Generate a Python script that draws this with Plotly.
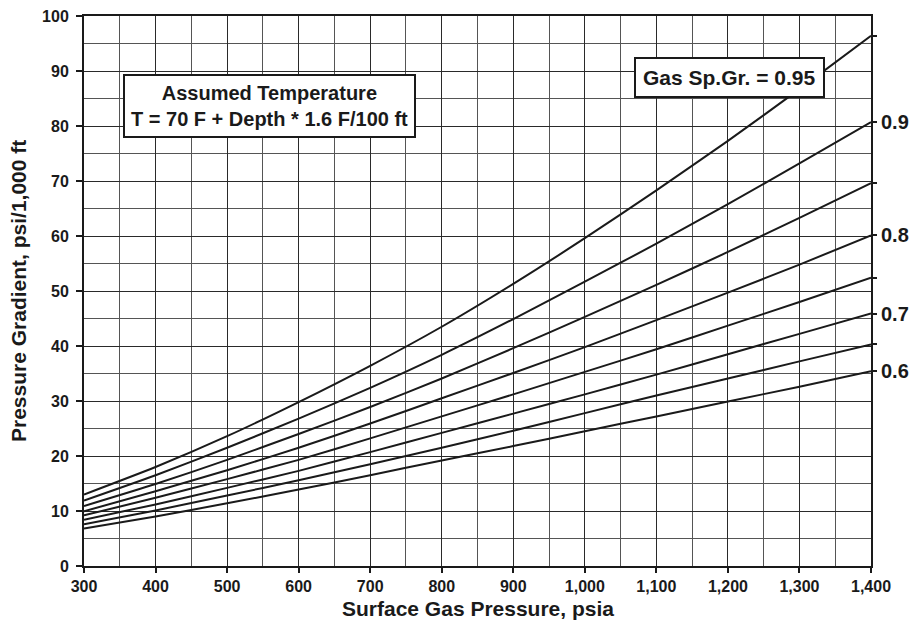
import plotly.graph_objects as go

# Surface gas pressure, psia
pressure = [300, 400, 500, 600, 700, 800, 900, 1000, 1100, 1200, 1300, 1400]

# Pressure gradient (psi/1,000 ft) for each gas specific gravity
grad_060 = [6.8, 9.0, 11.4, 13.9, 16.5, 19.2, 21.8, 24.5, 27.2, 29.9, 32.6, 35.4]
grad_065 = [7.6, 10.1, 12.8, 15.6, 18.5, 21.5, 24.6, 27.8, 31.0, 34.1, 37.2, 40.3]
grad_070 = [8.4, 11.2, 14.2, 17.3, 20.7, 24.2, 27.7, 31.2, 34.8, 38.5, 42.2, 45.9]
grad_075 = [9.2, 12.4, 15.8, 19.3, 23.2, 27.2, 31.2, 35.3, 39.4, 43.7, 48.0, 52.4]
grad_080 = [9.95, 13.6, 17.4, 21.5, 25.9, 30.5, 35.1, 39.8, 44.7, 49.7, 54.8, 60.1]
grad_085 = [10.9, 14.9, 19.3, 24.0, 28.9, 34.1, 39.6, 45.3, 51.1, 57.1, 63.3, 69.6]
grad_090 = [11.9, 16.5, 21.5, 26.8, 32.4, 38.4, 44.9, 51.7, 58.6, 65.8, 73.2, 80.7]
grad_095 = [13.0, 18.0, 23.6, 29.8, 36.4, 43.5, 51.3, 59.6, 68.3, 77.3, 86.7, 96.4]

gravities = [0.60, 0.65, 0.70, 0.75, 0.80, 0.85, 0.90, 0.95]
series = [grad_060, grad_065, grad_070, grad_075, grad_080, grad_085, grad_090, grad_095]
right_labels = ["0.6", "", "0.7", "", "0.8", "", "0.9", ""]

x_ticks = [300, 400, 500, 600, 700, 800, 900, 1000, 1100, 1200, 1300, 1400]
y_ticks = [0, 10, 20, 30, 40, 50, 60, 70, 80, 90, 100]

FONT = "Liberation Sans, Arial, sans-serif"
INK = "#1a1a1a"

fig = go.Figure()
for g, ys in zip(gravities, series):
    fig.add_trace(go.Scatter(x=pressure, y=ys, mode="lines", name=f"{g}",
                             line=dict(color=INK, width=2, shape="spline", smoothing=0.6),
                             showlegend=False, hoverinfo="skip"))

# invisible anchor trace for the right-hand axis (curve end ticks/labels)
fig.add_trace(go.Scatter(x=[pressure[-1]], y=[series[0][-1]], yaxis="y2", mode="markers",
                         marker=dict(size=1, color="rgba(0,0,0,0)"), showlegend=False,
                         hoverinfo="skip"))

end_vals = [s[-1] for s in series]

fig.update_layout(
    width=911, height=625,
    margin=dict(l=84, r=40, t=16, b=59),
    paper_bgcolor="white", plot_bgcolor="white",
    font=dict(family=FONT, color=INK),
    xaxis=dict(
        range=[300, 1400], tickvals=x_ticks, tickformat=",d",
        showgrid=True, gridcolor="#2a2a2a", gridwidth=1,
        minor=dict(dtick=50, tick0=300, showgrid=True, gridcolor="#555", gridwidth=1),
        ticks="outside", ticklen=5, tickwidth=2, tickcolor=INK,
        showline=True, linecolor=INK, linewidth=2, mirror=True,
        tickfont=dict(family=FONT, size=16, weight="bold", color=INK),
        ticklabeloverflow="allow",
        automargin=False, zeroline=False, fixedrange=True,
    ),
    yaxis=dict(
        range=[0, 100], tickvals=y_ticks,
        showgrid=True, gridcolor="#2a2a2a", gridwidth=1,
        minor=dict(dtick=5, tick0=0, showgrid=True, gridcolor="#555", gridwidth=1),
        ticks="outside", ticklen=6, tickwidth=2, tickcolor=INK,
        showline=True, linecolor=INK, linewidth=2, mirror=True,
        tickfont=dict(family=FONT, size=16, weight="bold", color=INK),
        ticklabelstandoff=4, ticklabeloverflow="allow",
        automargin=False, zeroline=False, fixedrange=True,
    ),
    yaxis2=dict(
        overlaying="y", side="right", range=[0, 100],
        tickvals=end_vals, ticktext=right_labels,
        ticks="outside", ticklen=5, tickwidth=2, tickcolor=INK,
        showgrid=False, zeroline=False, showline=False,
        tickfont=dict(family=FONT, size=20, weight="bold", color=INK),
        ticklabeloverflow="allow",
        automargin=False, fixedrange=True,
    ),
    annotations=[
        dict(x=0.5, y=0, xref="paper", yref="paper", xanchor="center", yanchor="middle",
             yshift=-42, showarrow=False,
             text="Surface Gas Pressure, psia",
             font=dict(family=FONT, size=21, weight="bold", color=INK)),
        dict(x=0, y=0.5, xref="paper", yref="paper", xanchor="center", yanchor="middle",
             xshift=-66, showarrow=False, textangle=-90,
             text="Pressure Gradient, psi/1,000 ft",
             font=dict(family=FONT, size=21, weight="bold", color=INK)),
        dict(x=354, y=83.7, xref="x", yref="y", xanchor="left", yanchor="middle",
             text="Assumed Temperature<br>T = 70 F + Depth * 1.6 F/100 ft",
             showarrow=False, align="center",
             font=dict(family=FONT, size=20, weight="bold", color=INK),
             bgcolor="white", bordercolor=INK, borderwidth=2, borderpad=6),
        dict(x=1336, y=88.9, xref="x", yref="y", xanchor="right", yanchor="middle",
             text="Gas Sp.Gr. = 0.95", showarrow=False,
             font=dict(family=FONT, size=21, weight="bold", color=INK),
             bgcolor="white", bordercolor=INK, borderwidth=2, borderpad=7),
    ],
)

# remove the browser's default 8px page margin so the 911x625 figure fills the window
fig.write_html("out.html",
               config={"displayModeBar": False, "staticPlot": True},
               post_script="document.body.style.margin='0';"
                           "document.body.style.overflow='hidden';")
